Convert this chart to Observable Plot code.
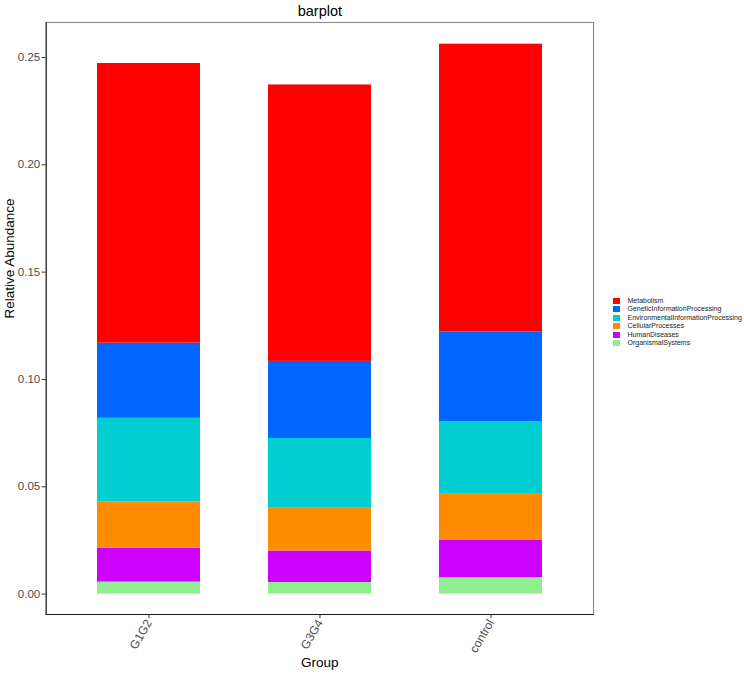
<!DOCTYPE html>
<html>
<head>
<meta charset="utf-8">
<script src="https://cdn.jsdelivr.net/npm/d3@7"></script>
<script src="https://cdn.jsdelivr.net/npm/@observablehq/plot@0.6"></script>
<style>
  html, body { margin: 0; padding: 0; background: #fff; }
  #wrap { position: relative; width: 744px; height: 674px; font-family: "Liberation Sans", Arial, sans-serif; }
  #legend { position: absolute; left: 613px; top: 297px; font-size: 7px; color: #1a1a1a; }
  .item { position: relative; height: 8.45px; line-height: 8.45px; white-space: nowrap; }
  .key { position: absolute; left: 0; top: 1px; width: 7px; height: 6px; }
  .lab { position: absolute; left: 14.5px; top: 0; }
</style>
</head>
<body>
<div id="wrap"></div>
<script>
// ---- data ----
const groups = ["G1G2", "G3G4", "control"];
const categories = [
  "Metabolism",
  "GeneticInformationProcessing",
  "EnvironmentalInformationProcessing",
  "CellularProcesses",
  "HumanDiseases",
  "OrganismalSystems"
];
const colors = ["#FF0000", "#0066FF", "#00CED1", "#FF8C00", "#CC00FF", "#90EE90"];
const metabolism = [0.1303, 0.1288, 0.1340];
const geneticInformationProcessing = [0.0350, 0.0359, 0.0418];
const environmentalInformationProcessing = [0.0390, 0.0325, 0.0339];
const cellularProcesses = [0.0215, 0.0199, 0.0215];
const humanDiseases = [0.0158, 0.0147, 0.0174];
const organismalSystems = [0.0056, 0.0054, 0.0076];
const yTicks = [0, 0.05, 0.10, 0.15, 0.20, 0.25];

// ---- build long table (stack order: bottom to top) ----
const series = [metabolism, geneticInformationProcessing, environmentalInformationProcessing,
                cellularProcesses, humanDiseases, organismalSystems];
const rows = [];
groups.forEach((g, gi) => {
  for (let ci = categories.length - 1; ci >= 0; ci--) {
    rows.push({group: g, category: categories[ci], value: series[ci][gi]});
  }
});

const font = "'Liberation Sans', Arial, sans-serif";
const chart = Plot.plot({
  width: 744,
  height: 674,
  marginLeft: 45.7,
  marginRight: 151,
  marginTop: 22,
  marginBottom: 60,
  style: {fontFamily: font, background: "#fff", overflow: "visible"},
  x: {domain: groups, paddingInner: 0.4, paddingOuter: 0.3, axis: null},
  y: {domain: [-0.0095, 0.2663], axis: null},
  color: {domain: categories, range: colors},
  marks: [
    Plot.barY(rows, {x: "group", y: "value", fill: "category", order: null, inset: 0}),
    Plot.frame({stroke: "#8a8a8a", strokeWidth: 1.1}),
    Plot.axisY({ticks: yTicks, tickFormat: d3.format(".2f"), tickSize: 4, tickPadding: 2,
      fontSize: 11.5, stroke: "#333", fill: "#4d4d4d", label: null}),
    Plot.axisX({tickRotate: -60, tickSize: 4, tickPadding: 2, fontSize: 12,
      stroke: "#333", fill: "#4d4d4d", label: null}),
    Plot.frame({anchor: "left", stroke: "#222", strokeWidth: 1.1}),
    Plot.frame({anchor: "bottom", stroke: "#222", strokeWidth: 1.1}),
    Plot.text(["Relative Abundance"], {frameAnchor: "left", rotate: -90, dx: -37, lineAnchor: "middle", fontSize: 13.5, fill: "#000"}),
    Plot.text(["Group"], {frameAnchor: "bottom", dy: 48, lineAnchor: "middle", fontSize: 13.5, fill: "#000"}),
    Plot.text(["barplot"], {frameAnchor: "top", dy: -11.5, lineAnchor: "middle", fontSize: 14.5, fill: "#000"})
  ]
});
const wrap = document.getElementById("wrap");
wrap.appendChild(chart);

// ---- legend ----
const legend = document.createElement("div");
legend.id = "legend";
categories.forEach((c, i) => {
  const item = document.createElement("div");
  item.className = "item";
  const key = document.createElement("span");
  key.className = "key";
  key.style.background = colors[i];
  const lab = document.createElement("span");
  lab.className = "lab";
  lab.textContent = c;
  item.appendChild(key);
  item.appendChild(lab);
  legend.appendChild(item);
});
wrap.appendChild(legend);
</script>
</body>
</html>
